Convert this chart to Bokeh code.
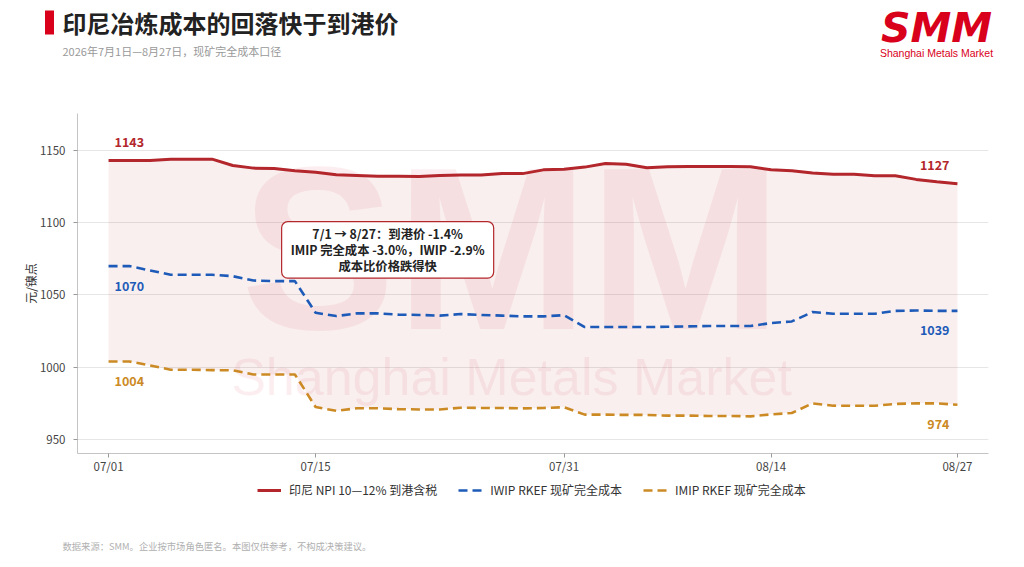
from bokeh.plotting import figure
from bokeh.layouts import column
from bokeh.models import (ColumnDataSource, Range1d, FixedTicker, Label, Legend, LegendItem)
from bokeh.core.properties import value
from bokeh.embed import file_html
from bokeh.resources import INLINE

# ---------------- data ----------------
dates = ["07/01", "07/02", "07/03", "07/06", "07/07", "07/08", "07/09", "07/10",
         "07/13", "07/14", "07/15", "07/16", "07/17", "07/20", "07/21", "07/22",
         "07/23", "07/24", "07/27", "07/28", "07/29", "07/30", "07/31",
         "08/03", "08/04", "08/05", "08/06", "08/07", "08/10", "08/11", "08/12",
         "08/13", "08/14", "08/17", "08/18", "08/19", "08/20", "08/21", "08/24",
         "08/25", "08/26", "08/27"]
tick_labels = ["07/01", "07/15", "07/31", "08/14", "08/27"]

npi_port = [1143, 1143, 1143, 1144, 1144, 1144, 1139.6, 1137.8, 1137.5, 1136,
            1135, 1133.2, 1132.7, 1132.2, 1132.2, 1132, 1132.7, 1133, 1133, 1134,
            1134, 1136.6, 1137, 1138.5, 1141, 1140.5, 1138, 1138.7, 1139, 1139,
            1139, 1138.8, 1136.6, 1136, 1134.5, 1133.6, 1133.6, 1132.5, 1132.5, 1130,
            1128.3, 1127]
iwip_cost = [1070, 1070, 1067, 1064, 1064, 1064, 1063, 1060, 1059.6, 1059.6,
             1037.7, 1035.4, 1037.3, 1037.3, 1036.4, 1036.2, 1035.7, 1036.8, 1036.2, 1035.7,
             1035.2, 1035.2, 1036, 1027.8, 1027.8, 1027.8, 1027.8, 1028, 1028.3, 1028.5,
             1028.5, 1028.5, 1030.6, 1031.7, 1038.2, 1037, 1037, 1037, 1039, 1039.3,
             1039, 1039]
imip_cost = [1004, 1004, 1001.3, 998.3, 998.3, 998, 997.9, 995, 995, 995,
             972.5, 969.8, 971.6, 971.6, 971, 970.8, 970.8, 972, 971.8, 971.8,
             971.5, 971.8, 972.3, 967.2, 967.2, 967, 967, 966.5, 966.5, 966.3,
             966.3, 966, 967.4, 968.3, 975, 973.4, 973.3, 973.3, 974.6, 975,
             975, 974]
y_ticks = [950, 1000, 1050, 1100, 1150]

series_names = ["印尼 NPI 10—12% 到港含税", "IWIP RKEF 现矿完全成本", "IMIP RKEF 现矿完全成本"]
title_text = "印尼冶炼成本的回落快于到港价"
subtitle_text = "2026年7月1日—8月27日，现矿完全成本口径"
note_text = "7/1 → 8/27：到港价 -1.4%\nIMIP 完全成本 -3.0%，IWIP -2.9%\n成本比价格跌得快"
footer_text = "数据来源：SMM。企业按市场角色匿名。本图仅供参考，不构成决策建议。"
y_label = "元/镍点"

# ---------------- style ----------------
RED = "#b3262b"
BLUE = "#1e5bb8"
ORANGE = "#cc8a25"
BRAND = "#d9001b"
FONT = "Noto Sans CJK SC"
W = 1008
HEAD_H = 105
MAIN_BOTTOM = 476
TOTAL_H = 551
LINE_STYLES = [dict(line_color=RED, line_width=3),
               dict(line_color=BLUE, line_width=2.6, line_dash="9 5"),
               dict(line_color=ORANGE, line_width=2.6, line_dash="9 5")]


def blank_fig(y0, y1):
    f = figure(width=W, height=y1 - y0, output_backend="svg", toolbar_location=None,
               x_range=Range1d(0, W), y_range=Range1d(y1, y0),
               x_axis_location=None, y_axis_location=None,
               min_border=0, min_border_left=0, min_border_right=0,
               min_border_top=0, min_border_bottom=0, frame_align=False)
    f.outline_line_color = None
    f.xgrid.visible = False
    f.ygrid.visible = False
    f.background_fill_color = "white"
    f.border_fill_color = "white"
    return f


def put_text(f, text, x, y, size, color, style="normal", align="left", font=FONT):
    f.text(x=[x], y=[y], text=[text], text_font=value(font), text_font_size=size,
           text_color=color, text_font_style=style, text_align=align,
           text_baseline="middle")


# ---------------- header ----------------
head = blank_fig(0, HEAD_H)
head.quad(left=[44.5], right=[53.5], top=[10], bottom=[34], fill_color=BRAND, line_color=None)
put_text(head, title_text, 62, 22, "24px", "#222222", "bold")
put_text(head, subtitle_text, 62, 50, "11px", "#999999")
put_text(head, "SMM", 936, 27, "41px", BRAND, "bold italic", "center", "DejaVu Sans")
put_text(head, "Shanghai Metals Market", 936, 52, "10.5px", BRAND, "normal", "center",
         "Liberation Sans")

# ---------------- main chart ----------------
idx = list(range(len(dates)))
src = ColumnDataSource(dict(x=idx, red=npi_port, blue=iwip_cost, orange=imip_cost))

FL, FR, FT, FB = 77, 988, 113, 453   # frame edges in page pixels
p = figure(width=W, height=MAIN_BOTTOM - HEAD_H, output_backend="svg", toolbar_location=None,
           x_range=Range1d(-1.5, 42.5), y_range=Range1d(940.3, 1175.6),
           min_border_left=FL, min_border_right=W - FR, min_border_top=FT - HEAD_H,
           min_border_bottom=MAIN_BOTTOM - FB, frame_align=False)
p.outline_line_color = None
p.background_fill_color = "white"
p.border_fill_color = "white"

p.varea(x="x", y1="orange", y2="red", source=src, fill_color=RED, fill_alpha=0.075)

# watermark (screen units relative to frame, y up)
p.add_layout(Label(x=511 - FL, y=FB - 248, x_units="screen", y_units="screen",
                   text="SMM", text_font="Liberation Sans", text_font_style="bold",
                   text_font_size="232px", text_color=BRAND, text_alpha=0.065,
                   text_align="center", text_baseline="middle", level="underlay"))
p.add_layout(Label(x=511 - FL, y=FB - 376, x_units="screen", y_units="screen",
                   text="Shanghai Metals Market", text_font="Liberation Sans",
                   text_font_size="52px", text_color=BRAND, text_alpha=0.065,
                   text_align="center", text_baseline="middle", level="underlay"))

p.line("x", "red", source=src, **LINE_STYLES[0])
p.line("x", "blue", source=src, **LINE_STYLES[1])
p.line("x", "orange", source=src, **LINE_STYLES[2])

# end-point value labels
first, last = 0, len(dates) - 1
lab_specs = [
    (first, npi_port[first], RED, "left", 6, -19),
    (first, iwip_cost[first], BLUE, "left", 6, 20),
    (first, imip_cost[first], ORANGE, "left", 6, 20),
    (last, npi_port[last], RED, "right", -8, -19),
    (last, iwip_cost[last], BLUE, "right", -8, 19),
    (last, imip_cost[last], ORANGE, "right", -8, 19),
]
for xi, yv, col, al, xo, yo in lab_specs:
    p.text(x=[xi], y=[yv], text=[f"{yv:.0f}"], text_color=col, text_align=al,
           text_baseline="middle", x_offset=xo, y_offset=yo,
           text_font=value(FONT), text_font_style="bold", text_font_size="12.5px")

# annotation box
p.add_layout(Label(x=13.48, y=1081.2, text=note_text, text_font=FONT,
                   text_font_style="bold", text_font_size="12.3px", text_color="#222222",
                   text_align="center", text_baseline="middle", text_line_height=0.9,
                   background_fill_color="white", background_fill_alpha=1.0,
                   border_line_color=RED, border_line_width=1.2, border_radius=6,
                   padding=(9, 3)))

# axes
p.xaxis.ticker = FixedTicker(ticks=[dates.index(t) for t in tick_labels])
p.xaxis.major_label_overrides = {dates.index(t): t for t in tick_labels}
p.yaxis.ticker = FixedTicker(ticks=y_ticks)
for ax in (p.xaxis[0], p.yaxis[0]):
    ax.axis_line_color = "#c4c4c4"
    ax.major_tick_line_color = "#9a9a9a"
    ax.major_tick_out = 4
    ax.major_tick_in = 0
    ax.minor_tick_line_color = None
    ax.major_label_text_font = FONT
    ax.major_label_text_font_size = "11.5px"
    ax.major_label_text_color = "#444444"
p.xaxis.major_label_standoff = 0
p.yaxis.major_label_standoff = 8
p.yaxis.axis_label = y_label
p.yaxis.axis_label_text_font = FONT
p.yaxis.axis_label_text_font_size = "12px"
p.yaxis.axis_label_text_font_style = "normal"
p.yaxis.axis_label_text_color = "#333333"
p.yaxis.axis_label_standoff = -2
p.xgrid.grid_line_color = None
p.ygrid.grid_line_color = "#e6e6e6"

# ---------------- footer: legend + source note ----------------
foot = blank_fig(MAIN_BOTTOM, TOTAL_H)
# legend keys: same line styles, placed outside the visible range of this strip
keys = [foot.line(x=[-50, -40], y=[TOTAL_H + 100, TOTAL_H + 100], **st) for st in LINE_STYLES]
lg = Legend(items=[LegendItem(label=name, renderers=[k]) for name, k in zip(series_names, keys)],
            orientation="horizontal", location=(257, TOTAL_H - 498),
            border_line_alpha=0, background_fill_alpha=0, padding=0, margin=0,
            spacing=21, glyph_width=24, glyph_height=14, label_standoff=8,
            label_text_font=FONT, label_text_font_size="12px",
            label_text_color="#333333")
foot.add_layout(lg)
put_text(foot, footer_text, 62, 545, "9.3px", "#b0b0b0")

page = column(head, p, foot, spacing=0)
open("out.html", "w").write(file_html(page, INLINE))
